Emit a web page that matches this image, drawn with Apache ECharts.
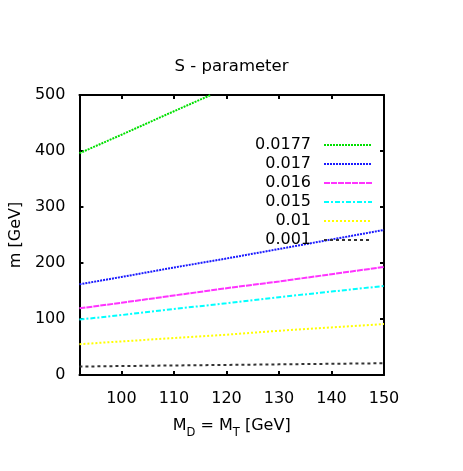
<!DOCTYPE html>
<html>
<head>
<meta charset="utf-8">
<script src="https://cdn.jsdelivr.net/npm/echarts@6/dist/echarts.min.js"></script>
<style>
  html, body { margin: 0; padding: 0; background: #fff; }
  #chart { width: 463px; height: 471px; }
</style>
</head>
<body>
<div id="chart"></div>
<script>
// M_D = M_T values (GeV)
const masses = [92, 100, 110, 120, 130, 140, 150];
const massesGreen = [92, 100, 110, 117];

// m [GeV] contours, one per S value
const s0177 = [396, 429, 471, 500];
const s017 = [162, 175, 192, 208, 225, 242, 259];
const s016 = [119, 129, 142, 155, 167, 180, 193];
const s015 = [99, 107, 118, 128, 139, 149, 159];
const s01 = [55, 60, 66, 72, 79, 85, 91];
const s001 = [15, 16, 17, 18, 19, 20, 21];

const xTicks = [100, 110, 120, 130, 140, 150];

const FONT = 'DejaVu Sans';

function pairs(xs, ys) {
  return xs.map(function(x, i) { return [x, ys[i]]; });
}

function lineSeries(name, xs, ys, color, dash) {
  return {
    name: name,
    type: 'line',
    data: pairs(xs, ys),
    symbol: 'none',
    clip: true,
    lineStyle: { color: color, width: 2, type: dash },
    itemStyle: { color: color },
    z: 3
  };
}

const chart = echarts.init(document.getElementById('chart'));

const frameLine = { show: true, onZero: false, lineStyle: { color: '#000', width: 2 } };
const tickStyle = { show: true, inside: true, length: 4, lineStyle: { color: '#000', width: 2 } };

chart.setOption({
  animation: false,
  backgroundColor: '#fff',
  title: {
    text: 'S - parameter',
    left: 'center',
    top: 58,
    padding: 0,
    textStyle: { fontFamily: FONT, fontSize: 16.5, fontWeight: 'normal', color: '#000' }
  },
  grid: { left: 78, right: 79, top: 95, bottom: 96 },
  legend: {
    orient: 'vertical',
    align: 'right',
    right: 90,
    top: 136,
    itemWidth: 48,
    itemHeight: 12,
    itemGap: 1,
    padding: 0,
    itemStyle: { opacity: 0 },
    textStyle: {
      fontFamily: FONT,
      fontSize: 16,
      color: '#000',
      lineHeight: 18,
      padding: [0, 8, 0, 0]
    },
    data: ['0.0177', '0.017', '0.016', '0.015', '0.01', '0.001']
  },
  xAxis: [
    {
      type: 'value',
      min: 92,
      max: 150,
      position: 'bottom',
      name: '{a|M}{s|D}{a| = M}{s|T}{a| [GeV]}',
      nameLocation: 'middle',
      nameGap: 43,
      nameTextStyle: {
        rich: {
          a: { fontFamily: FONT, fontSize: 16, color: '#000', verticalAlign: 'top', lineHeight: 21 },
          s: { fontFamily: FONT, fontSize: 11.5, color: '#000', verticalAlign: 'bottom' }
        }
      },
      axisLine: frameLine,
      axisTick: Object.assign({ customValues: xTicks }, tickStyle),
      axisLabel: {
        customValues: xTicks,
        margin: 16,
        fontFamily: FONT,
        fontSize: 16,
        color: '#000'
      },
      splitLine: { show: false }
    },
    {
      type: 'value',
      min: 92,
      max: 150,
      position: 'top',
      axisLine: frameLine,
      axisTick: Object.assign({ customValues: xTicks }, tickStyle),
      axisLabel: { show: false },
      splitLine: { show: false }
    }
  ],
  yAxis: [
    {
      type: 'value',
      min: 0,
      max: 500,
      interval: 100,
      position: 'left',
      name: 'm [GeV]',
      nameLocation: 'middle',
      nameGap: 53,
      nameTextStyle: { fontFamily: FONT, fontSize: 16, color: '#000' },
      axisLine: frameLine,
      axisTick: tickStyle,
      axisLabel: {
        margin: 14,
        fontFamily: FONT,
        fontSize: 16,
        color: '#000'
      },
      splitLine: { show: false }
    },
    {
      type: 'value',
      min: 0,
      max: 500,
      interval: 100,
      position: 'right',
      axisLine: frameLine,
      axisTick: tickStyle,
      axisLabel: { show: false },
      splitLine: { show: false }
    }
  ],
  series: [
    lineSeries('0.0177', massesGreen, s0177, '#00e000', [2, 1]),
    lineSeries('0.017', masses, s017, '#1a1aff', [2, 1]),
    lineSeries('0.016', masses, s016, '#ff33ff', [6, 1]),
    lineSeries('0.015', masses, s015, '#00ffff', [5, 2, 2, 2]),
    lineSeries('0.01', masses, s01, '#ffff00', [2, 2]),
    lineSeries('0.001', masses, s001, '#333333', [3, 3])
  ]
});
</script>
</body>
</html>
